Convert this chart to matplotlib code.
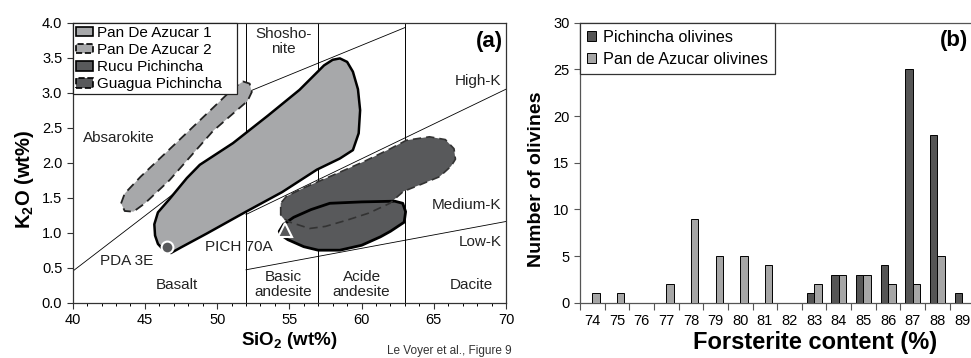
import matplotlib
matplotlib.use('Agg')
import matplotlib.pyplot as plt
from matplotlib.patches import Polygon, Patch
from matplotlib.ticker import MultipleLocator, FormatStrFormatter

plt.rcParams['font.family'] = ['Liberation Sans', 'DejaVu Sans']
plt.rcParams['mathtext.fontset'] = 'custom'
plt.rcParams['mathtext.rm'] = 'Liberation Sans'
plt.rcParams['mathtext.bf'] = 'Liberation Sans:bold'

# ---------------- Panel (b) data ----------------
fo_content = ['74', '75', '76', '77', '78', '79', '80', '81', '82', '83', '84', '85', '86', '87', '88', '89']
pichincha_olivines = [0, 0, 0, 0, 0, 0, 0, 0, 0, 1, 3, 3, 4, 25, 18, 1]
pan_azucar_olivines = [1, 1, 0, 2, 9, 5, 5, 4, 0, 2, 3, 3, 2, 2, 5, 0]

# ---------------- Panel (a) data (SiO2, K2O) ----------------
pda1_sio2 = [46.8, 47.5, 49.3, 52.0, 54.5, 56.9, 58.5, 59.4, 59.8, 59.9, 59.75, 59.4, 59.0, 58.5, 58.0, 57.4, 55.7, 53.5, 51.1, 48.8, 47.9, 46.7, 45.9, 45.65, 45.7, 45.9, 46.3]
pda1_k2o = [0.71, 0.79, 0.99, 1.30, 1.58, 1.90, 2.06, 2.18, 2.42, 2.75, 3.05, 3.30, 3.44, 3.49, 3.47, 3.39, 3.04, 2.67, 2.28, 1.97, 1.78, 1.48, 1.29, 1.12, 0.96, 0.84, 0.75]

pda2_sio2 = [43.35, 43.6, 44.7, 47.0, 50.2, 51.2, 51.8, 52.25, 52.4, 52.1, 51.2, 49.7, 48.2, 46.7, 45.0, 44.2, 43.6]
pda2_k2o = [1.42, 1.56, 1.80, 2.25, 2.88, 3.08, 3.16, 3.13, 3.01, 2.88, 2.72, 2.45, 2.10, 1.75, 1.42, 1.30, 1.31]

rucu_sio2 = [54.3, 54.6, 55.3, 56.5, 57.8, 60.0, 62.3, 62.85, 63.05, 62.95, 62.0, 61.3, 60.0, 58.5, 57.0, 56.0, 54.9, 54.4]
rucu_k2o = [1.02, 1.12, 1.22, 1.33, 1.42, 1.44, 1.45, 1.42, 1.30, 1.15, 1.02, 0.94, 0.82, 0.75, 0.75, 0.80, 0.90, 0.97]

guagua_sio2 = [54.4, 54.4, 54.8, 56.0, 58.0, 60.1, 62.0, 63.1, 64.7, 65.8, 66.4, 66.5, 66.2, 65.4, 64.0, 62.9, 61.96, 60.5, 59.0, 57.5, 56.4, 55.05, 54.6]
guagua_k2o = [1.25, 1.42, 1.52, 1.64, 1.82, 2.01, 2.20, 2.32, 2.37, 2.33, 2.20, 2.05, 1.95, 1.80, 1.68, 1.59, 1.42, 1.28, 1.18, 1.09, 1.06, 1.15, 1.20]

# classification boundaries
vline_sio2 = [52, 57, 63]
line_shosh_low_x = [40, 52]
line_shosh_low_y = [0.45, 2.35]
line_shosh_high_x = [52, 63]
line_shosh_high_y = [3.0, 3.93]
line_highk_x = [52, 70]
line_highk_y = [1.26, 3.05]
line_lowk_x = [52, 70]
line_lowk_y = [0.47, 1.16]

pda3e_point = (46.5, 0.80)
pich70a_point = (54.7, 1.04)

light = '#a7a8aa'
dark = '#58595b'

fig = plt.figure(figsize=(9.71, 3.58), dpi=100)

# ================= Panel (a) =================
ax1 = fig.add_axes([0.0749, 0.1545, 0.4462, 0.7821])
ax1.set_xlim(40, 70)
ax1.set_ylim(0, 4)

for xv in vline_sio2:
    ax1.plot([xv, xv], [0, 4], color='black', lw=0.7, zorder=1)
for xs, ys in [(line_shosh_low_x, line_shosh_low_y), (line_shosh_high_x, line_shosh_high_y),
               (line_highk_x, line_highk_y), (line_lowk_x, line_lowk_y)]:
    ax1.plot(xs, ys, color='black', lw=0.6, zorder=1)

ax1.add_patch(Polygon(list(zip(pda2_sio2, pda2_k2o)), closed=True, facecolor=light,
                      edgecolor='#222222', lw=1.3, ls=(0, (5, 3)), zorder=3, joinstyle='round'))
ax1.add_patch(Polygon(list(zip(pda1_sio2, pda1_k2o)), closed=True, facecolor=light,
                      edgecolor='black', lw=1.8, zorder=3, joinstyle='round'))
ax1.add_patch(Polygon(list(zip(guagua_sio2, guagua_k2o)), closed=True, facecolor=dark,
                      edgecolor='none', zorder=3))
ax1.add_patch(Polygon(list(zip(rucu_sio2, rucu_k2o)), closed=True, facecolor=dark,
                      edgecolor='black', lw=2.0, zorder=4, joinstyle='round'))
ax1.add_patch(Polygon(list(zip(guagua_sio2, guagua_k2o)), closed=True, facecolor='none',
                      edgecolor='#333333', lw=1.2, ls=(0, (5, 3)), zorder=5, joinstyle='round'))

ax1.plot([pda3e_point[0]], [pda3e_point[1]], marker='o', ms=8.5, mfc=dark, mec='white', mew=1.5, zorder=6)
ax1.plot([pich70a_point[0]], [pich70a_point[1]], marker='^', ms=10, mfc=dark, mec='white', mew=1.5, zorder=6)

region_labels = [
    ('Absarokite', 43.2, 2.35, 'center'),
    ('Shosho-\nnite', 54.6, 3.73, 'center'),
    ('High-K', 69.7, 3.16, 'right'),
    ('Medium-K', 69.7, 1.40, 'right'),
    ('Low-K', 69.7, 0.87, 'right'),
    ('Dacite', 67.6, 0.25, 'center'),
    ('Acide\nandesite', 60.0, 0.26, 'center'),
    ('Basic\nandesite', 54.6, 0.26, 'center'),
    ('Basalt', 47.2, 0.25, 'center'),
    ('PDA 3E', 43.7, 0.59, 'center'),
    ('PICH 70A', 51.5, 0.80, 'center'),
]
for txt, x, y, ha in region_labels:
    ax1.text(x, y, txt, ha=ha, va='center', fontsize=11, color='#222222',
             linespacing=1.05, zorder=7)
ax1.text(69.8, 3.73, '(a)', ha='right', va='center', fontsize=16, fontweight='bold', zorder=7)

ax1.xaxis.set_major_locator(MultipleLocator(5))
ax1.xaxis.set_minor_locator(MultipleLocator(1))
ax1.yaxis.set_major_locator(MultipleLocator(0.5))
ax1.yaxis.set_major_formatter(FormatStrFormatter('%.1f'))
ax1.tick_params(axis='both', which='major', direction='out', length=4, width=0.8, labelsize=10.5, color='#333333')
ax1.tick_params(axis='x', which='minor', direction='out', length=2.5, width=0.7)
ax1.tick_params(axis='y', which='minor', length=0)
for s in ax1.spines.values():
    s.set_linewidth(0.9)
    s.set_color('#333333')
ax1.set_xlabel(r'SiO$_\mathbf{2}$ (wt%)', fontsize=13.5, fontweight='bold', labelpad=2)
ax1.set_ylabel(r'K$_\mathbf{2}$O (wt%)', fontsize=14.5, fontweight='bold')
ax1.yaxis.set_label_coords(-0.085, 0.44)

handles_a = [
    Patch(facecolor=light, edgecolor='black', lw=1.2, label='Pan De Azucar 1'),
    Patch(facecolor=light, edgecolor='black', lw=1.2, ls='--', label='Pan De Azucar 2'),
    Patch(facecolor=dark, edgecolor='black', lw=1.2, label='Rucu Pichincha'),
    Patch(facecolor=dark, edgecolor='black', lw=1.2, ls='--', label='Guagua Pichincha'),
]
leg_a = ax1.legend(handles=handles_a, loc='upper left', bbox_to_anchor=(0, 0.75, 0.38, 0.25),
                   mode='expand', borderaxespad=0, fontsize=11, frameon=True, fancybox=False,
                   edgecolor='#222222', framealpha=1, handlelength=1.1, handleheight=0.6,
                   handletextpad=0.3, labelspacing=0.21, borderpad=0.2)
leg_a.get_frame().set_linewidth(0.9)
leg_a.set_zorder(8)

# ================= Panel (b) =================
ax2 = fig.add_axes([0.5973, 0.1545, 0.4062, 0.7821])
pos = list(range(len(fo_content)))
w = 0.3
ax2.bar([p - w / 2 for p in pos], pichincha_olivines, width=w, color='#555555', edgecolor='black',
        linewidth=0.7, label='Pichincha olivines', zorder=3)
ax2.bar([p + w / 2 for p in pos], pan_azucar_olivines, width=w, color='#a6a6a6', edgecolor='black',
        linewidth=0.7, label='Pan de Azucar olivines', zorder=3)
ax2.set_xlim(-0.5, len(fo_content) - 0.5)
ax2.set_ylim(0, 30)
ax2.set_xticks(pos)
ax2.set_xticklabels(fo_content)
ax2.set_xticks([p - 0.5 for p in range(len(fo_content) + 1)], minor=True)
ax2.tick_params(axis='x', which='major', length=0, labelsize=10.5, pad=8)
ax2.tick_params(axis='x', which='minor', direction='out', length=5, width=0.8, color='#555555')
ax2.yaxis.set_major_locator(MultipleLocator(5))
ax2.tick_params(axis='y', which='major', direction='out', length=4, width=0.8, labelsize=10.5, color='#555555')
for s in ax2.spines.values():
    s.set_linewidth(0.9)
    s.set_color('#555555')
ax2.set_xlabel('Forsterite content (%)', fontsize=17, fontweight='bold')
ax2.xaxis.set_label_coords(0.596, -0.1)
ax2.xaxis.label.set_va('top')
ax2.set_ylabel('Number of olivines', fontsize=14, fontweight='bold')
ax2.yaxis.set_label_coords(-0.089, 0.44)
ax2.text(0.985, 0.935, '(b)', transform=ax2.transAxes, ha='right', va='center', fontsize=16, fontweight='bold')
leg_b = ax2.legend(loc='upper left', bbox_to_anchor=(0, 1), borderaxespad=0, fontsize=11.7,
                   frameon=True, fancybox=False, edgecolor='#333333', framealpha=1,
                   handlelength=0.55, handleheight=0.55, handletextpad=0.4, labelspacing=0.4,
                   borderpad=0.45)
leg_b.get_frame().set_linewidth(0.9)

fig.text(387 / 971, 1 / 358, 'Le Voyer et al., Figure 9', ha='left', va='bottom',
         fontsize=8.5, color='#333333')

fig.savefig('out.png', dpi=100)
